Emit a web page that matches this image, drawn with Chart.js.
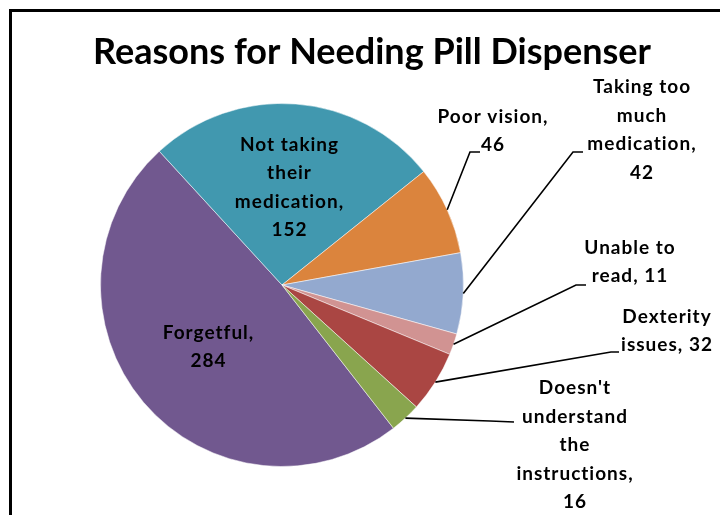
<!DOCTYPE html>
<html>
<head>
    <title>Reasons for Needing Pill Dispenser</title>
    <style>
        body { margin: 0; padding: 0; background: #fff; }
        #chartContainerPill { width: 720px; height: 515px; position: relative; }
    </style>
    <script src="https://cdn.jsdelivr.net/npm/chart.js"></script>
</head>
<body>

    <div id="chartContainerPill">
        <canvas id="myPieChartPill"></canvas>
    </div>

    <script>
        // data
        const reasonsPill = [
            "Forgetful",
            "Not taking their medication",
            "Poor vision",
            "Taking too much medication",
            "Unable to read",
            "Dexterity issues",
            "Doesn't understand the instructions"
        ];
        const countsPill = [284, 152, 46, 42, 11, 32, 16];
        const coloursPill = ['#71588F', '#4198AF', '#DB843D', '#93A9CF', '#D19392', '#AA4643', '#89A54E'];

        const titlePill = 'Reasons for Needing Pill Dispenser';
        const labelFont = 'bold 19px Lato, "Liberation Sans", sans-serif';
        const lineHeight = 28.5;
        const wrapWidth = 125;

        // where each data label sits (inside = fraction of radius along mid angle)
        const labelSpots = [
            { inside: 0.53 },
            { inside: 0.54 },
            { x: 493, y: 131, elbow: [470, 152], tail: [480, 152] },
            { x: 642, y: 130, elbow: [573, 152], tail: [583, 152] },
            { x: 630, y: 262, elbow: [576, 285], tail: [586, 285] },
            { x: 667, y: 331, elbow: [611, 352], tail: [619, 352] },
            { x: 575, y: 445, elbow: [490, 421], tail: [514, 422] }
        ];

        function wrapText(ctx, text, maxW) {
            const words = text.split(' ');
            const lines = [];
            let cur = words[0];
            for (let i = 1; i < words.length; i++) {
                const test = cur + ' ' + words[i];
                if (ctx.measureText(test).width > maxW) {
                    lines.push(cur);
                    cur = words[i];
                } else {
                    cur = test;
                }
            }
            lines.push(cur);
            return lines;
        }

        const framePlugin = {
            id: 'frameAndTitle',
            beforeDraw(chart) {
                const ctx = chart.ctx;
                ctx.save();
                ctx.fillStyle = '#fff';
                ctx.fillRect(0, 0, chart.width, chart.height);
                ctx.strokeStyle = '#000';
                ctx.lineWidth = 3;
                ctx.beginPath();
                ctx.moveTo(10.5, chart.height);
                ctx.lineTo(10.5, 10.5);
                ctx.lineTo(chart.width, 10.5);
                ctx.stroke();
                ctx.restore();
            },
            afterDraw(chart) {
                const ctx = chart.ctx;
                ctx.save();
                ctx.fillStyle = '#000';
                ctx.font = 'bold 36px Lato, "Liberation Sans", sans-serif';
                ctx.textAlign = 'center';
                ctx.textBaseline = 'alphabetic';
                ctx.fillText(titlePill, 372, 64);
                ctx.restore();
            }
        };

        const sliceLabelPlugin = {
            id: 'sliceLabels',
            afterDatasetsDraw(chart) {
                const ctx = chart.ctx;
                const meta = chart.getDatasetMeta(0);
                ctx.save();
                ctx.font = labelFont;
                ctx.letterSpacing = '1px';
                ctx.fillStyle = '#000';
                ctx.strokeStyle = '#000';
                ctx.lineWidth = 1.6;
                ctx.textAlign = 'center';
                ctx.textBaseline = 'middle';
                meta.data.forEach((arc, i) => {
                    const p = arc.getProps(['x', 'y', 'startAngle', 'endAngle', 'outerRadius'], true);
                    const mid = (p.startAngle + p.endAngle) / 2;
                    const spot = labelSpots[i];
                    const lines = wrapText(ctx, reasonsPill[i] + ', ' + countsPill[i], wrapWidth);
                    let cx, cy;
                    if (spot.inside) {
                        cx = p.x + Math.cos(mid) * p.outerRadius * spot.inside;
                        cy = p.y + Math.sin(mid) * p.outerRadius * spot.inside;
                    } else {
                        cx = spot.x;
                        cy = spot.y;
                        ctx.beginPath();
                        ctx.moveTo(p.x + Math.cos(mid) * p.outerRadius, p.y + Math.sin(mid) * p.outerRadius);
                        ctx.lineTo(spot.elbow[0], spot.elbow[1]);
                        ctx.lineTo(spot.tail[0], spot.tail[1]);
                        ctx.stroke();
                    }
                    lines.forEach((ln, k) => {
                        ctx.fillText(ln, cx, cy + (k - (lines.length - 1) / 2) * lineHeight);
                    });
                });
                ctx.restore();
            }
        };

        const ctxPill = document.getElementById('myPieChartPill').getContext('2d');
        new Chart(ctxPill, {
            type: 'pie',
            data: {
                labels: reasonsPill,
                datasets: [{
                    data: countsPill,
                    backgroundColor: coloursPill,
                    borderColor: 'rgba(255,255,255,0.5)',
                    borderWidth: 1
                }]
            },
            options: {
                responsive: true,
                maintainAspectRatio: false,
                animation: false,
                rotation: 142.1,
                layout: {
                    padding: { left: 100, right: 256, top: 103, bottom: 48 }
                },
                plugins: {
                    legend: { display: false },
                    tooltip: { enabled: false }
                }
            },
            plugins: [framePlugin, sliceLabelPlugin]
        });
    </script>

</body>
</html>
